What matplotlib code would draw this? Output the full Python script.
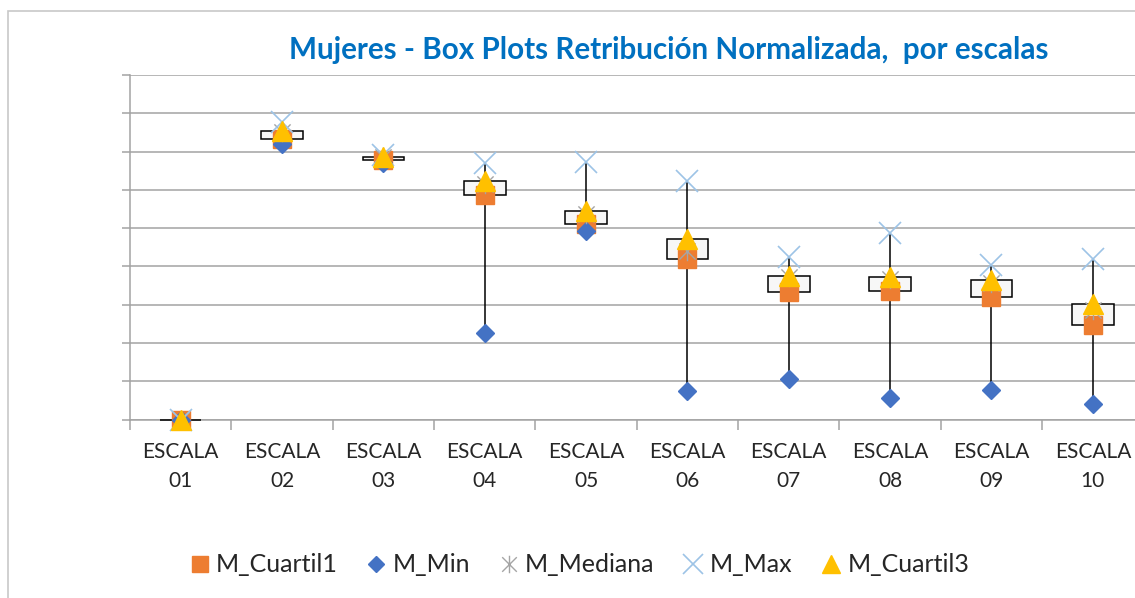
import matplotlib
matplotlib.use("Agg")
import matplotlib.pyplot as plt
from matplotlib.path import Path
from matplotlib.patches import Rectangle
import numpy as np

plt.rcParams['font.family'] = ['Lato', 'DejaVu Sans']

categories = ["ESCALA\n01", "ESCALA\n02", "ESCALA\n03", "ESCALA\n04", "ESCALA\n05",
              "ESCALA\n06", "ESCALA\n07", "ESCALA\n08", "ESCALA\n09", "ESCALA\n10"]
m_cuartil1 = [0.0, 7.32, 6.79, 5.87, 5.12, 4.20, 3.34, 3.36, 3.21, 2.47]
m_min      = [0.0, 7.19, 6.71, 2.26, 4.93, 0.75, 1.06, 0.56, 0.77, 0.41]
m_mediana  = [0.0, 7.50, 6.87, 6.14, 5.38, 4.41, 3.73, 3.68, 3.57, 2.87]
m_max      = [0.0, 7.76, 6.92, 6.71, 6.74, 6.24, 4.25, 4.88, 4.04, 4.20]
m_cuartil3 = [0.0, 7.55, 6.87, 6.22, 5.46, 4.71, 3.76, 3.73, 3.65, 3.02]

W, H = 1135, 598
fig = plt.figure(figsize=(W / 100, H / 100), dpi=100)

# chart-area border (partially visible)
fig.patches.append(Rectangle((8 / W, -0.1), 1.2, 1 - 11 / H + 0.1, transform=fig.transFigure,
                             fill=False, edgecolor='#c8c8c8', lw=1.2))

left, right, top, bottom = 130, 1143.5, 75, 419.5
ax = fig.add_axes([left / W, 1 - bottom / H, (right - left) / W, (bottom - top) / H])

x = np.arange(1, len(categories) + 1)
grey = '#a3a3a3'

# high-low lines
ax.vlines(x, m_min, m_max, color='black', lw=1.1, zorder=3)
# up-down bars (Q1..Q3)
bw = 0.41
for xi, q1, q3 in zip(x, m_cuartil1, m_cuartil3):
    ax.add_patch(Rectangle((xi - bw / 2, q1), bw, q3 - q1, facecolor='#f7f7f7',
                           edgecolor='black', lw=1.1, zorder=4, clip_on=False))

ast = Path([(-1, -1), (1, 1), (-1, 1), (1, -1), (0, -1.2), (0, 1.2)],
           [Path.MOVETO, Path.LINETO, Path.MOVETO, Path.LINETO, Path.MOVETO, Path.LINETO])

ax.plot(x, m_cuartil1, ls='none', marker='s', ms=13.5, color='#ED7D31', mec='#ED7D31', zorder=5,
        label='M_Cuartil1', clip_on=False)
ax.plot(x, m_min, ls='none', marker='D', ms=9.5, color='#4472C4', mec='#4472C4', zorder=6,
        label='M_Min', clip_on=False)
ax.plot(x, m_mediana, ls='none', marker=ast, ms=14, color='#A5A5A5', mew=1.0, zorder=7,
        label='M_Mediana', clip_on=False)
ax.plot(x, m_max, ls='none', marker='x', ms=16, color='#9DC3E6', mew=1.2, zorder=8,
        label='M_Max', clip_on=False)
ax.plot(x, m_cuartil3, ls='none', marker='^', ms=14, color='#FFC000', mec='#FFC000', zorder=9,
        label='M_Cuartil3', clip_on=False)

ax.set_xlim(0.5, len(categories) + 0.5)
ax.set_ylim(0, 9)
ax.set_yticks(np.arange(0, 10, 1))
ax.set_yticklabels([])
ax.yaxis.grid(True, color=grey, lw=1.1)
ax.set_axisbelow(True)
ax.tick_params(axis='y', length=6, color=grey, width=1.1)

ax.set_xticks(x)
ax.set_xticklabels(categories, fontsize=15, color='#262626', linespacing=1.6)
ax.set_xticks(np.arange(0.5, len(categories) + 1, 1), minor=True)
ax.tick_params(axis='x', which='major', length=0, pad=16)
ax.tick_params(axis='x', which='minor', length=7, color=grey, width=1.1)

for s in ['top', 'right']:
    ax.spines[s].set_visible(False)
ax.spines['left'].set_color(grey)
ax.spines['bottom'].set_color(grey)
ax.spines['left'].set_linewidth(1.1)
ax.spines['bottom'].set_linewidth(1.1)

fig.text(669 / W, 1 - 50 / H, "Mujeres - Box Plots Retribución Normalizada,  por escalas",
         ha='center', va='center', fontsize=21.3, fontweight='bold', color='#0070C0')

handles, labels = ax.get_legend_handles_labels()
fig.legend(handles, labels, loc='center', bbox_to_anchor=(580 / W, 1 - 565 / H), ncol=5,
           frameon=False, fontsize=18, handletextpad=0.3, columnspacing=1.2,
           handlelength=0.7, markerscale=0.9, labelcolor='#262626')

fig.savefig('out.png', dpi=100)
